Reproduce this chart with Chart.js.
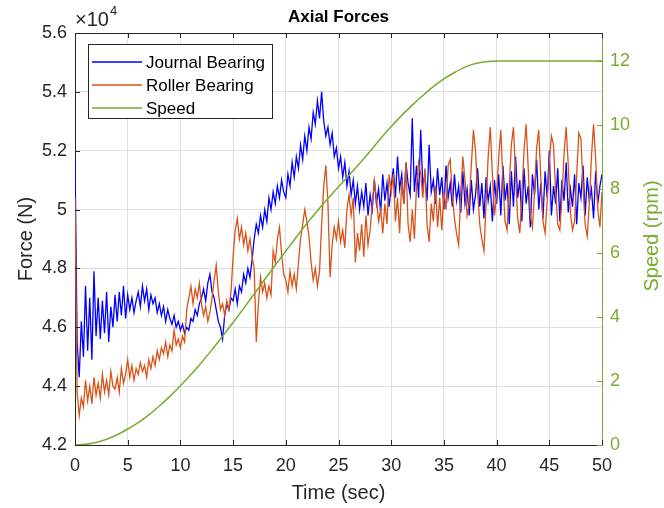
<!DOCTYPE html>
<html lang="en">
<head>
<meta charset="UTF-8">
<title>Axial Forces</title>
<script src="https://cdn.jsdelivr.net/npm/chart.js@4.4.1/dist/chart.umd.min.js"></script>
<style>
  html, body { margin: 0; padding: 0; background: #fff; }
  #contenedor { width: 664px; height: 508px; }
</style>
</head>
<body>
<div id="contenedor"><canvas id="grafica"></canvas></div>
<script>
'use strict'
//Datos (fuerza en x10^4 N, muestras cada 0.2 s)
const pasoTiempo = 0.2;

const fuerzaJournal = [
    5.18, 4.55, 4.43, 4.62, 4.50, 4.74, 4.52, 4.70, 4.49, 4.79,
    4.57, 4.70, 4.56, 4.69, 4.58, 4.72, 4.55, 4.67, 4.60, 4.71,
    4.62, 4.72, 4.64, 4.74, 4.63, 4.71, 4.66, 4.70, 4.65, 4.69,
    4.72, 4.67, 4.74, 4.69, 4.73, 4.66, 4.71, 4.68, 4.70, 4.65,
    4.68, 4.64, 4.67, 4.62, 4.66, 4.63, 4.61, 4.64, 4.60, 4.62,
    4.59, 4.61, 4.58, 4.60, 4.59, 4.63, 4.62, 4.66, 4.64, 4.68,
    4.70, 4.73, 4.69, 4.75, 4.78, 4.72, 4.70, 4.66, 4.62, 4.60,
    4.56, 4.64, 4.68, 4.66, 4.70, 4.69, 4.73, 4.68, 4.74, 4.72,
    4.78, 4.75, 4.80, 4.77, 4.83, 4.90, 4.95, 4.92, 4.98, 4.94,
    5.00, 4.96, 5.04, 5.00, 5.06, 5.02, 5.08, 5.04, 5.10, 5.06,
    5.04, 5.12, 5.08, 5.16, 5.11, 5.18, 5.14, 5.22, 5.17, 5.25,
    5.20, 5.28, 5.24, 5.33, 5.29, 5.37, 5.31, 5.40, 5.30, 5.25,
    5.28, 5.22, 5.26, 5.18, 5.21, 5.14, 5.18, 5.11, 5.16, 5.08,
    5.13, 5.05, 5.10, 5.02, 5.08, 5.00, 5.06, 5.01, 5.09, 4.98,
    5.05, 5.00, 5.10, 5.02, 5.07, 4.99, 5.12, 5.03, 5.09, 5.01,
    5.08, 5.14, 5.04, 5.18, 5.07, 5.12, 5.02, 5.16, 5.09, 5.05,
    5.31, 5.06, 5.15, 5.04, 5.27, 5.08, 5.12, 5.03, 5.22, 5.06,
    5.10, 5.02, 5.14, 5.05, 5.11, 5.00, 5.15, 5.04, 5.09, 5.01,
    5.12, 5.03, 5.08, 4.99, 5.13, 5.02, 5.07, 4.98, 5.10, 5.00,
    5.05, 5.14, 5.01, 5.09, 4.97, 5.11, 5.03, 5.08, 4.96, 5.10,
    5.02, 5.12, 4.98, 5.15, 5.03, 5.09, 4.95, 5.13, 5.01, 5.18,
    5.04, 5.10, 4.96, 5.14, 5.02, 5.08, 4.94, 5.12, 5.05, 5.17,
    5.00, 5.09, 4.97, 5.13, 5.04, 5.20, 4.98, 5.08, 5.02, 5.14,
    4.96, 5.10, 5.03, 5.16, 4.99, 5.07, 5.01, 5.12, 4.95, 5.09,
    5.04, 5.15, 4.98, 5.11, 5.03, 5.07, 4.97, 5.13, 5.02, 5.08,
    5.12
];

const fuerzaRoller = [
    5.04, 4.38, 4.30, 4.36, 4.33, 4.42, 4.35, 4.40, 4.34, 4.43,
    4.37, 4.41, 4.36, 4.44, 4.38, 4.42, 4.37, 4.45, 4.40, 4.39,
    4.43, 4.38, 4.46, 4.41, 4.44, 4.49, 4.43, 4.47, 4.42, 4.46,
    4.44, 4.48, 4.45, 4.47, 4.43, 4.49, 4.46, 4.50, 4.47, 4.52,
    4.49, 4.53, 4.51, 4.55, 4.50, 4.54, 4.52, 4.59, 4.54, 4.56,
    4.53, 4.57, 4.55, 4.66, 4.70, 4.74, 4.68, 4.73, 4.70, 4.75,
    4.68, 4.64, 4.67, 4.62, 4.65, 4.70, 4.76, 4.81, 4.72, 4.66,
    4.68, 4.64, 4.69, 4.66, 4.72, 4.84, 4.93, 4.97, 4.90, 4.94,
    4.88, 4.92, 4.86, 4.90, 4.84, 4.80, 4.55, 4.68, 4.77, 4.72,
    4.75, 4.70, 4.74, 4.71, 4.86, 4.82, 4.90, 4.94, 4.85, 4.78,
    4.76, 4.72, 4.79, 4.74, 4.78, 4.73, 4.82, 4.90, 4.95, 5.00,
    4.96, 4.91, 4.82, 4.76, 4.80, 4.74, 4.79, 4.95, 5.08, 5.15,
    5.02, 4.77, 4.88, 4.94, 4.90, 4.96, 4.89, 4.93, 4.87, 5.00,
    5.05, 4.98, 5.04, 4.82, 4.92, 4.86, 4.95, 4.84, 4.98, 4.88,
    4.93, 5.02, 5.10, 5.04, 4.96, 5.00, 4.92, 5.02, 4.95, 5.12,
    5.06, 5.12, 4.96, 5.04, 4.92, 5.10, 5.02, 5.16, 4.95, 4.89,
    5.00, 4.90, 5.08, 5.16, 5.12, 5.04, 5.14, 4.95, 4.89, 5.02,
    4.96, 5.08, 4.94, 5.04, 4.93, 5.06, 5.00, 5.15, 5.17, 5.05,
    4.97, 4.92, 4.88, 5.06, 5.18, 5.10, 4.98, 5.02, 5.15, 5.27,
    5.20, 5.06, 4.95, 4.90, 4.86, 5.02, 5.18, 5.28, 5.12, 4.98,
    5.05, 5.18, 5.27, 5.10, 4.96, 4.93, 5.08, 5.22, 5.28, 5.12,
    4.97, 4.92, 5.05, 5.20, 5.29, 5.14, 4.98, 4.94, 5.06, 5.21,
    5.27, 5.10, 4.96, 4.92, 5.03, 5.16, 5.25, 5.22, 5.06, 4.95,
    4.93, 5.04, 5.19, 5.28, 5.15, 4.99, 4.93, 4.96, 5.12, 5.26,
    5.24, 5.08, 4.95, 4.91, 5.02, 5.18, 5.29, 5.17, 5.00, 4.94,
    5.06
];

//Velocidad (rpm)
const tiempoVelocidad = [0, 1, 2, 3, 4, 5, 6, 7, 8, 9, 10, 11, 12, 13, 14, 15, 16, 17, 18, 19, 20,
    21, 22, 23, 24, 25, 26, 27, 28, 29, 30, 31, 32, 33, 34, 35, 36, 37, 38, 39, 40, 50];
const velocidad = [0, 0.02, 0.08, 0.18, 0.32, 0.50, 0.70, 0.94, 1.22, 1.52, 1.85, 2.20, 2.58, 2.98, 3.40,
    3.83, 4.27, 4.72, 5.17, 5.62, 6.06, 6.50, 6.92, 7.32, 7.70, 8.07, 8.43, 8.80, 9.18, 9.58, 9.95,
    10.30, 10.62, 10.92, 11.20, 11.44, 11.64, 11.81, 11.92, 11.98, 12.0, 12.0];

const ticksTiempo = [0, 5, 10, 15, 20, 25, 30, 35, 40, 45, 50];
const etiquetasLeyenda = ['Journal Bearing', 'Roller Bearing', 'Speed'];

//Colores estilo MATLAB
const azul = '#0000ff';
const naranja = '#d95319';
const verde = '#77ac30';
const gris = '#262626';
const rejilla = '#dfdfdf';
const fuente = '"Liberation Sans", Arial, Helvetica, sans-serif';

const tiempoMuestras = fuerzaJournal.map((v, i) => Math.round(i * pasoTiempo * 10) / 10);

const ctx_grafica = document.getElementById('grafica').getContext('2d');

//Plugin para titulo, leyenda, etiquetas de ejes y ticks interiores
const decoracion = {
    id: 'decoracion',
    afterDraw(chart) {
        const ctx = chart.ctx;
        const { left, right, top, bottom } = chart.chartArea;
        const xS = chart.scales.x;
        const yS = chart.scales.y;
        const y2S = chart.scales.y2;
        ctx.save();

        //Marco superior
        ctx.lineWidth = 1;
        ctx.strokeStyle = gris;
        ctx.beginPath();
        ctx.moveTo(left, top + 0.5);
        ctx.lineTo(right, top + 0.5);
        ctx.stroke();

        //Ticks interiores
        ctx.beginPath();
        ticksTiempo.forEach(v => {
            const px = Math.round(xS.getPixelForValue(v)) + 0.5;
            ctx.moveTo(px, bottom);
            ctx.lineTo(px, bottom - 5);
            ctx.moveTo(px, top);
            ctx.lineTo(px, top + 5);
        });
        yS.ticks.forEach(t => {
            const py = Math.round(yS.getPixelForValue(t.value)) + 0.5;
            ctx.moveTo(left, py);
            ctx.lineTo(left + 5, py);
        });
        ctx.stroke();
        ctx.strokeStyle = verde;
        ctx.beginPath();
        y2S.ticks.forEach(t => {
            const py = Math.round(y2S.getPixelForValue(t.value)) + 0.5;
            ctx.moveTo(right, py);
            ctx.lineTo(right - 5, py);
        });
        ctx.stroke();

        //Titulo
        ctx.fillStyle = '#000';
        ctx.textAlign = 'center';
        ctx.textBaseline = 'middle';
        ctx.font = 'bold 17px ' + fuente;
        ctx.fillText('Axial Forces', (left + right) / 2, 17);

        //Multiplicador x10^4
        ctx.fillStyle = gris;
        ctx.textAlign = 'left';
        ctx.font = '20px ' + fuente;
        ctx.fillText('\u00d710', left, 20);
        const anchoX10 = ctx.measureText('\u00d710').width;
        ctx.font = '13px ' + fuente;
        ctx.fillText('4', left + anchoX10 + 1, 11);

        //Titulos de ejes
        ctx.font = '20px ' + fuente;
        ctx.textAlign = 'center';
        ctx.fillText('Time (sec)', (left + right) / 2, 493);
        ctx.save();
        ctx.translate(26, (top + bottom) / 2);
        ctx.rotate(-Math.PI / 2);
        ctx.fillText('Force (N)', 0, 0);
        ctx.restore();
        ctx.save();
        ctx.fillStyle = verde;
        ctx.translate(652, 236);
        ctx.rotate(-Math.PI / 2);
        ctx.fillText('Speed (rpm)', 0, 0);
        ctx.restore();

        //Leyenda
        ctx.fillStyle = '#fff';
        ctx.fillRect(88.5, 44.5, 184, 74);
        ctx.strokeStyle = gris;
        ctx.lineWidth = 1;
        ctx.strokeRect(88.5, 44.5, 184, 74);
        const coloresLeyenda = [azul, naranja, verde];
        ctx.font = '17px ' + fuente;
        ctx.textAlign = 'left';
        etiquetasLeyenda.forEach((txt, i) => {
            const yl = 62 + i * 23;
            ctx.strokeStyle = coloresLeyenda[i];
            ctx.lineWidth = 1.5;
            ctx.beginPath();
            ctx.moveTo(92, yl);
            ctx.lineTo(142, yl);
            ctx.stroke();
            ctx.fillStyle = '#000';
            ctx.fillText(txt, 146, yl + 1);
        });

        ctx.restore();
    }
};

const graficaFuerzas = new Chart(ctx_grafica, {
    type: 'line',
    data: {
        datasets: [{
            label: etiquetasLeyenda[0],
            data: tiempoMuestras.map((t, i) => ({ x: t, y: fuerzaJournal[i] })),
            borderColor: azul,
            borderWidth: 1.3,
            yAxisID: 'y',
            order: 2
        }, {
            label: etiquetasLeyenda[1],
            data: tiempoMuestras.map((t, i) => ({ x: t, y: fuerzaRoller[i] })),
            borderColor: naranja,
            borderWidth: 1.3,
            yAxisID: 'y',
            order: 1
        }, {
            label: etiquetasLeyenda[2],
            data: tiempoVelocidad.map((t, i) => ({ x: t, y: velocidad[i] })),
            borderColor: verde,
            borderWidth: 1.5,
            yAxisID: 'y2',
            cubicInterpolationMode: 'monotone',
            order: 0
        }]
    },
    options: {
        animation: false,
        responsive: true,
        maintainAspectRatio: false,
        elements: { point: { radius: 0 }, line: { tension: 0 } },
        layout: { padding: { top: 33, left: 0, right: 0, bottom: 0 } },
        plugins: {
            legend: { display: false },
            tooltip: { enabled: false },
            title: { display: false }
        },
        scales: {
            x: {
                type: 'linear',
                min: 0,
                max: 50,
                afterBuildTicks: (scale) => { scale.ticks = ticksTiempo.map(v => ({ value: v })); },
                afterFit: (scale) => { scale.height = 63; },
                grid: { color: rejilla, drawTicks: false },
                border: { color: gris, width: 1 },
                ticks: { color: gris, font: { family: fuente, size: 18 }, padding: 10, maxRotation: 0 }
            },
            y: {
                position: 'left',
                min: 4.2,
                max: 5.6,
                afterFit: (scale) => { scale.width = 75; },
                grid: { color: rejilla, drawTicks: false },
                border: { color: gris, width: 1 },
                ticks: {
                    stepSize: 0.2,
                    color: gris,
                    font: { family: fuente, size: 18 },
                    padding: 8,
                    callback: (v) => String(Number(v.toFixed(1)))
                }
            },
            y2: {
                position: 'right',
                min: 0,
                max: 12.875,
                afterBuildTicks: (scale) => { scale.ticks = scale.ticks.filter(t => t.value % 2 === 0); },
                afterFit: (scale) => { scale.width = 62; },
                grid: { display: false, drawTicks: false },
                border: { color: verde, width: 1 },
                ticks: { stepSize: 2, color: verde, font: { family: fuente, size: 18 }, padding: 8 }
            }
        }
    },
    plugins: [decoracion]
});
</script>
</body>
</html>
